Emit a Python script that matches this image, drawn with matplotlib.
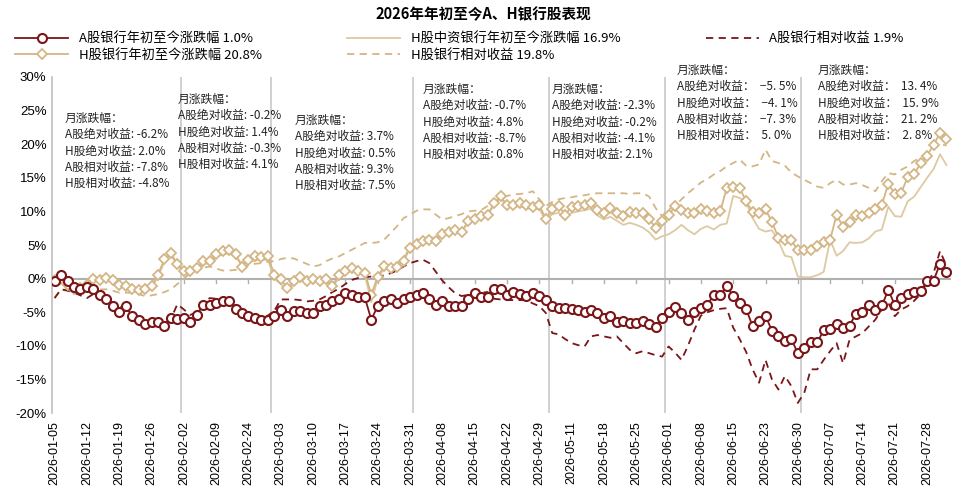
import matplotlib
matplotlib.use("Agg")
import matplotlib.pyplot as plt

plt.rcParams['font.family'] = ['Noto Sans CJK SC', 'DejaVu Sans']
plt.rcParams['axes.unicode_minus'] = False

tick_labels = ["2026-01-05","2026-01-12","2026-01-19","2026-01-26","2026-02-02","2026-02-09",
               "2026-02-24","2026-03-03","2026-03-10","2026-03-17","2026-03-24","2026-03-31",
               "2026-04-08","2026-04-15","2026-04-22","2026-04-29","2026-05-11","2026-05-18",
               "2026-05-25","2026-06-01","2026-06-08","2026-06-15","2026-06-23","2026-06-30",
               "2026-07-07","2026-07-14","2026-07-21","2026-07-28"]
month_bounds = [19.5, 33.5, 55.5, 76.5, 94.5, 115.5]

a_abs = [-0.4,0.6,-0.4,-1.2,-1.6,-1.2,-1.6,-2.4,-3.1,-4.1,-4.9,-4.1,-5.6,-6.1,-6.7,-6.5,-6.5,-7.1,-5.8,-6.0,
         -5.8,-6.5,-5.4,-3.9,-3.9,-3.6,-3.4,-3.3,-4.5,-5.1,-5.5,-5.8,-6.1,-6.1,-5.6,-4.6,-5.6,-4.8,-4.8,-5.1,
         -5.1,-4.1,-3.9,-3.4,-3.0,-2.1,-2.5,-2.7,-2.8,-6.1,-4.1,-3.4,-3.1,-3.7,-3.0,-2.7,-2.5,-2.1,-3.1,-3.9,
         -3.3,-4.1,-4.1,-4.1,-3.1,-2.1,-2.7,-2.8,-1.6,
         -1.6,-2.4,-2.0,-2.3,-2.6,-2.1,-2.6,-3.2,-4.1,-4.4,-4.4,-4.5,-4.7,-4.9,-4.7,-5.1,-5.9,-5.6,-6.5,-6.3,
         -6.6,-6.6,-6.3,-6.7,-7.2,-5.9,-4.9,-4.2,-5.1,-6.1,-5.0,-4.4,-3.9,-2.4,-2.5,-1.1,-2.6,-3.6,-4.5,-7.1,
         -6.3,-5.5,-7.8,-8.5,-9.3,-9.0,-11.1,-10.3,-9.5,-9.5,-7.7,-7.5,-6.8,-7.3,-7.0,-5.2,-5.0,-4.0,-4.7,-4.0,
         -1.7,-3.9,-2.9,-2.3,-2.0,-1.9,-0.4,-0.3,2.2,1.0]
h_abs = [-0.2,-0.1,-0.9,-1.6,-1.4,-0.9,0.0,-0.2,0.1,-0.2,-0.9,-1.1,-1.6,-1.7,-1.6,-1.1,0.6,2.9,3.8,2.1,
         1.1,1.1,1.6,2.6,2.6,3.6,4.1,4.3,3.6,1.8,2.8,3.3,3.2,3.3,0.6,-0.1,-1.4,-0.4,0.3,-0.4,
         0.0,-0.4,-0.1,-1.1,0.6,1.1,1.6,1.2,0.9,-2.4,0.3,1.9,1.6,1.8,2.6,4.6,5.2,5.6,5.8,5.6,
         6.7,7.0,7.3,7.0,8.5,8.9,9.3,9.5,11.2,
         12.3,10.9,10.9,11.2,10.9,10.7,10.9,8.9,10.3,10.8,9.5,10.7,10.8,10.9,11.2,10.2,9.7,10.5,9.7,9.3,
         9.9,9.7,9.7,8.9,7.5,8.5,9.4,10.8,10.2,9.8,9.8,10.3,10.0,9.8,10.0,13.5,13.6,13.5,11.5,9.9,
         9.7,10.3,8.4,6.1,5.8,5.7,4.2,4.2,4.3,4.9,5.4,5.8,9.5,7.7,8.4,9.5,9.3,9.8,10.4,11.0,
         14.1,12.6,12.8,15.1,15.5,17.2,18.3,19.9,21.7,20.8]
hz_abs = [-0.3,-0.2,-1.0,-1.7,-1.6,-1.1,-0.2,-0.4,-0.1,-0.4,-1.1,-1.4,-1.9,-2.1,-2.0,-1.4,0.3,2.5,3.5,2.0,
          1.0,1.0,1.4,2.2,2.3,3.2,3.6,3.8,3.2,2.2,2.5,2.7,2.8,2.8,0.0,-0.8,-1.8,-0.8,0.0,-0.6,
          -0.3,-0.6,-0.5,-1.4,0.2,0.8,1.2,1.0,0.6,-3.5,0.0,1.6,1.8,2.2,2.9,4.8,5.6,6.0,6.2,6.0,
          6.8,7.1,7.3,7.1,8.4,8.8,9.2,9.4,11.0,
          12.0,10.8,10.6,10.8,10.5,10.3,10.4,8.6,9.6,9.8,8.8,9.8,10.0,10.2,10.4,9.4,8.8,9.2,8.6,8.0,
          8.3,8.0,7.6,6.9,5.8,6.3,6.6,7.2,8.0,7.2,6.6,7.4,7.8,7.3,8.0,8.2,12.3,12.0,11.4,9.0,
          7.4,7.0,7.2,5.6,3.4,3.2,0.3,0.2,0.2,0.5,1.0,5.8,3.4,4.1,5.4,5.3,5.4,6.0,7.0,7.3,
          10.7,9.3,9.2,11.5,12.2,13.6,15.0,16.3,18.5,16.9]
a_rel = [-2.9,-1.6,-1.8,-2.1,-2.5,-2.9,-2.3,-2.6,-3.0,-3.6,-4.0,-4.7,-5.3,-5.9,-6.4,-6.6,-6.6,-6.6,-6.0,-3.8,
         -4.6,-5.4,-5.0,-3.8,-2.9,-3.0,-3.3,-3.6,-4.1,-5.0,-5.6,-6.0,-6.1,-5.5,-4.8,-3.1,-3.1,-3.1,-3.2,-3.4,
         -3.3,-3.1,-2.6,-2.0,-1.5,-0.8,-0.2,0.1,0.2,0.3,0.2,0.5,0.8,1.2,1.8,2.3,2.6,2.8,2.3,1.0,
         -0.3,-1.3,-2.2,-2.6,-2.4,-2.1,-2.1,-2.0,-3.0,
         -3.1,-3.2,-3.2,-3.2,-3.2,-3.7,-4.1,-5.1,-8.1,-8.3,-9.0,-9.6,-9.9,-10.1,-8.6,-8.4,-8.6,-8.8,-8.6,-9.6,
         -10.6,-11.1,-10.8,-11.1,-11.4,-11.6,-10.1,-11.0,-12.1,-10.0,-7.6,-5.5,-5.0,-4.7,-4.5,-4.4,-7.3,-9.0,-10.9,-13.5,
         -15.5,-12.1,-15.0,-16.5,-14.5,-16.0,-18.5,-17.0,-13.5,-13.5,-12.1,-10.8,-9.6,-12.6,-9.1,-8.6,-8.1,-7.1,-6.1,-4.6,
         -3.6,-5.6,-4.6,-4.1,-3.3,-2.3,-0.5,0.8,4.1,1.9]
h_rel = [-2.9,-1.6,-1.7,-1.8,-2.0,-1.9,-1.6,-1.6,-1.6,-1.8,-2.1,-2.1,-2.1,-2.3,-2.6,-2.5,-2.3,-2.0,-1.6,-0.8,
         0.0,0.8,1.3,1.6,1.8,1.5,1.2,1.2,1.3,1.6,2.0,2.2,2.3,2.5,2.6,2.9,3.1,3.0,2.6,2.2,
         1.8,2.0,2.6,3.0,3.3,3.8,4.3,4.8,5.3,5.3,5.4,5.8,6.8,7.8,9.0,9.5,10.1,10.3,10.3,9.5,
         8.8,9.0,9.3,9.6,10.0,10.1,10.2,10.8,11.3,
         11.8,12.3,12.5,12.6,12.7,13.0,11.8,10.8,11.4,11.8,12.0,12.1,12.3,12.4,12.6,12.7,12.7,12.7,12.7,12.7,
         12.6,12.7,12.7,12.2,10.5,9.3,10.3,10.8,11.8,12.7,13.5,14.3,14.8,15.5,16.0,16.7,17.2,17.7,16.8,16.7,
         17.0,19.2,17.5,17.2,16.8,15.8,15.2,14.7,14.2,13.7,13.5,14.2,14.7,14.0,14.0,14.2,13.9,13.5,13.0,14.5,
         15.7,15.5,16.2,16.7,17.5,18.0,18.8,19.5,20.0,19.8]

notes = [
    (65, 112, "月涨跌幅：\nA股绝对收益: -6.2%\nH股绝对收益: 2.0%\nA股相对收益: -7.8%\nH股相对收益: -4.8%"),
    (178, 93, "月涨跌幅：\nA股绝对收益: -0.2%\nH股绝对收益: 1.4%\nA股相对收益: -0.3%\nH股相对收益: 4.1%"),
    (295, 114, "月涨跌幅：\nA股绝对收益: 3.7%\nH股绝对收益: 0.5%\nA股相对收益: 9.3%\nH股相对收益: 7.5%"),
    (423, 83, "月涨跌幅：\nA股绝对收益: -0.7%\nH股绝对收益: 4.8%\nA股相对收益: -8.7%\nH股相对收益: 0.8%"),
    (552, 83, "月涨跌幅：\nA股绝对收益: -2.3%\nH股绝对收益: -0.2%\nA股相对收益: -4.1%\nH股相对收益: 2.1%"),
    (677, 64, "月涨跌幅：\nA股绝对收益：  −5. 5%\nH股绝对收益：  −4. 1%\nA股相对收益：  −7. 3%\nH股相对收益：  5. 0%"),
    (818, 64, "月涨跌幅：\nA股绝对收益：  13. 4%\nH股绝对收益：  15. 9%\nA股相对收益：  21. 2%\nH股相对收益：  2. 8%"),
]

RED = '#7a1518'
TAN = '#d4b585'
TAN2 = '#ddc9a2'

W, H = 966, 498
fig = plt.figure(figsize=(W/100, H/100), dpi=100)
ax = fig.add_axes([52/W, 1-413/H, (951-52)/W, (413-77)/H])
x = list(range(len(a_abs)))

ax.plot(x, hz_abs, color=TAN2, lw=1.3, label='H股中资银行年初至今涨跌幅 16.9%', zorder=3)
ax.plot(x, h_rel, color=TAN, lw=1.3, ls=(0, (4, 3)), label='H股银行相对收益 19.8%', zorder=2)
ax.plot(x, a_rel, color=RED, lw=1.3, ls=(0, (4, 3)), label='A股银行相对收益 1.9%', zorder=2)
ax.plot(x, h_abs, color=TAN, lw=1.3, marker='D', ms=5, mfc='white', mec=TAN, mew=1.3,
        label='H股银行年初至今涨跌幅 20.8%', zorder=4)
ax.plot(x, a_abs, color=RED, lw=1.3, marker='o', ms=6.5, mfc='white', mec=RED, mew=1.5,
        label='A股银行年初至今涨跌幅 1.0%', zorder=5)

for b in month_bounds:
    ax.axvline(b, color='#c8c8c8', lw=1.2, zorder=1)

ax.set_ylim(-20, 30)
ax.set_xlim(-0.4, len(a_abs) - 0.3)
ax.set_yticks(range(-20, 31, 5))
ax.set_yticklabels([f"{v}%" for v in range(-20, 31, 5)], fontsize=9.5, family=['Liberation Sans', 'DejaVu Sans'])
ax.set_xticks(range(0, len(a_abs), 5))
ax.set_xticklabels(tick_labels, rotation=90, fontsize=9, family=['Liberation Sans', 'DejaVu Sans'])
ax.tick_params(axis='x', length=0, pad=6)
ax.tick_params(axis='y', length=0, pad=4)
for s in ['top', 'right', 'bottom']:
    ax.spines[s].set_visible(False)
ax.spines['left'].set_color('#bfbfbf')
ax.spines['left'].set_linewidth(1.2)
ax.axhline(0, color='#b0b0b0', lw=1.5, zorder=1)
for xt in range(0, len(a_abs), 5):
    ax.plot([xt, xt], [0, -0.6], color='#b0b0b0', lw=1, zorder=1)

for px, py, t in notes:
    fig.text(px/W, 1-py/H, t, fontsize=8.5, va='top', ha='left', linespacing=1.32, color='#222222')

fig.text(0.5, 1-14/H, '2026年年初至今A、H银行股表现', ha='center', va='center', fontsize=10.5, fontweight='bold')

hs, ls = ax.get_legend_handles_labels()
order = [4, 3, 0, 1, 2]
fig.legend([hs[i] for i in order], [ls[i] for i in order], ncol=3, loc='upper left',
           bbox_to_anchor=(10/W, 1-27/H), frameon=False, fontsize=9.5, handlelength=4,
           columnspacing=6.5, labelspacing=0.25, borderaxespad=0)

fig.savefig('out.png', dpi=100)
